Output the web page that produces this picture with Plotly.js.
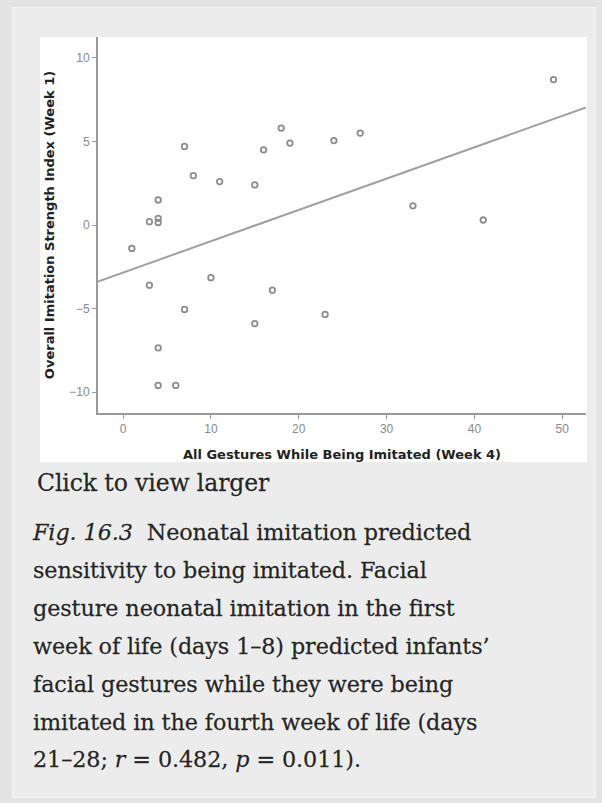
<!DOCTYPE html>
<html>
<head>
<meta charset="utf-8">
<script src="https://cdn.plot.ly/plotly-3.0.1.min.js"></script>
<style>
  html, body { margin: 0; padding: 0; }
  body { width: 602px; height: 803px; background: #e3e3e3; position: relative; overflow: hidden; }
  #frame { position: absolute; left: 12px; top: 7px; width: 582px; height: 789px; background: #ececec; border: 1px solid #f4f4f4; }
  #panel { position: absolute; left: 40px; top: 37px; width: 547px; height: 425px; background: #ffffff; }
  #chart { width: 547px; height: 425px; }
  .cap { position: absolute; left: 33px; font-family: "DejaVu Serif", serif; font-size: 22.3px; color: #262626;
         -webkit-text-stroke: 0.3px #262626;
         text-shadow: 0 0 2px #fff, 0 0 2px #fff, 0 0 1px #fff; white-space: nowrap; letter-spacing: -0.1px; }
  #click { top: 469px; left: 37px; line-height: 28px; font-size: 23.5px; }
  #caption { top: 514px; line-height: 37.9px; }
</style>
</head>
<body>
<div id="frame"></div>
<div id="panel"><div id="chart"></div></div>
<div class="cap" id="click">Click to view larger</div>
<div class="cap" id="caption">
<i>Fig. 16.3</i>&nbsp; Neonatal imitation predicted<br>
sensitivity to being imitated. Facial<br>
gesture neonatal imitation in the first<br>
week of life (days 1–8) predicted infants’<br>
facial gestures while they were being<br>
imitated in the fourth week of life (days<br>
21–28; <i>r</i> = 0.482, <i>p</i> = 0.011).
</div>
<script>
// All gestures while being imitated (week 4)
const gesturesWeek4 = [1, 3, 4, 4, 4, 7, 8, 11, 15, 16, 18, 19, 24, 27, 33, 41, 49,
                       3, 7, 10, 17, 15, 23, 4, 4, 6];
// Overall imitation strength index (week 1)
const imitationWeek1 = [-1.4, 0.2, 0.15, 0.4, 1.5, 4.7, 2.95, 2.6, 2.4, 4.5, 5.8, 4.9, 5.05, 5.5, 1.15, 0.3, 8.7,
                        -3.6, -5.05, -3.15, -3.9, -5.9, -5.35, -7.35, -9.6, -9.6];
const xTicks = [0, 10, 20, 30, 40, 50];
const yTicks = [-10, -5, 0, 5, 10];
const xRange = [-2.85, 52.7];
const yRange = [-11.25, 11.25];

// least-squares fit computed from the data
const n = gesturesWeek4.length;
const mx = gesturesWeek4.reduce((a, b) => a + b, 0) / n;
const my = imitationWeek1.reduce((a, b) => a + b, 0) / n;
let sxy = 0, sxx = 0;
for (let i = 0; i < n; i++) {
  sxy += (gesturesWeek4[i] - mx) * (imitationWeek1[i] - my);
  sxx += (gesturesWeek4[i] - mx) ** 2;
}
const slope = sxy / sxx;
const intercept = my - slope * mx;
const fitX = [xRange[0], xRange[1]];
const fitY = fitX.map(x => intercept + slope * x);

const grey = '#999999';
const traces = [
  { x: fitX, y: fitY, type: 'scatter', mode: 'lines', line: { color: '#a0a0a0', width: 2 }, hoverinfo: 'skip' },
  { x: gesturesWeek4, y: imitationWeek1, type: 'scatter', mode: 'markers',
    marker: { symbol: 'circle-open', size: 5.5, color: '#8c8c8c', line: { width: 1.8, color: '#8c8c8c' } } }
];

const titleFont = { family: 'DejaVu Sans, sans-serif', size: 13, color: '#222', weight: 'bold' };
const axisCommon = {
  showgrid: false, zeroline: false, showline: true, linecolor: grey, linewidth: 2,
  ticks: 'outside', ticklen: 4, tickwidth: 1, tickcolor: grey,
  tickfont: { family: 'Liberation Sans, Arial, sans-serif', size: 12, color: '#8a8a8a' },
  fixedrange: true
};

const layout = {
  width: 547, height: 425,
  margin: { l: 58, r: 1, t: 0, b: 49 },
  paper_bgcolor: '#ffffff', plot_bgcolor: '#ffffff',
  showlegend: false,
  xaxis: Object.assign({}, axisCommon, {
    range: xRange, tickvals: xTicks, ticktext: xTicks.map(String),
    title: { text: 'All Gestures While Being Imitated (Week 4)', standoff: 14, font: titleFont }
  }),
  yaxis: Object.assign({}, axisCommon, {
    range: yRange, tickvals: yTicks, ticktext: yTicks.map(v => v < 0 ? '\u2212' + Math.abs(v) : String(v)),
    title: { text: 'Overall Imitation Strength Index (Week 1)', standoff: 12, font: titleFont }
  })
};

Plotly.newPlot('chart', traces, layout, { displayModeBar: false, staticPlot: true });
</script>
</body>
</html>
